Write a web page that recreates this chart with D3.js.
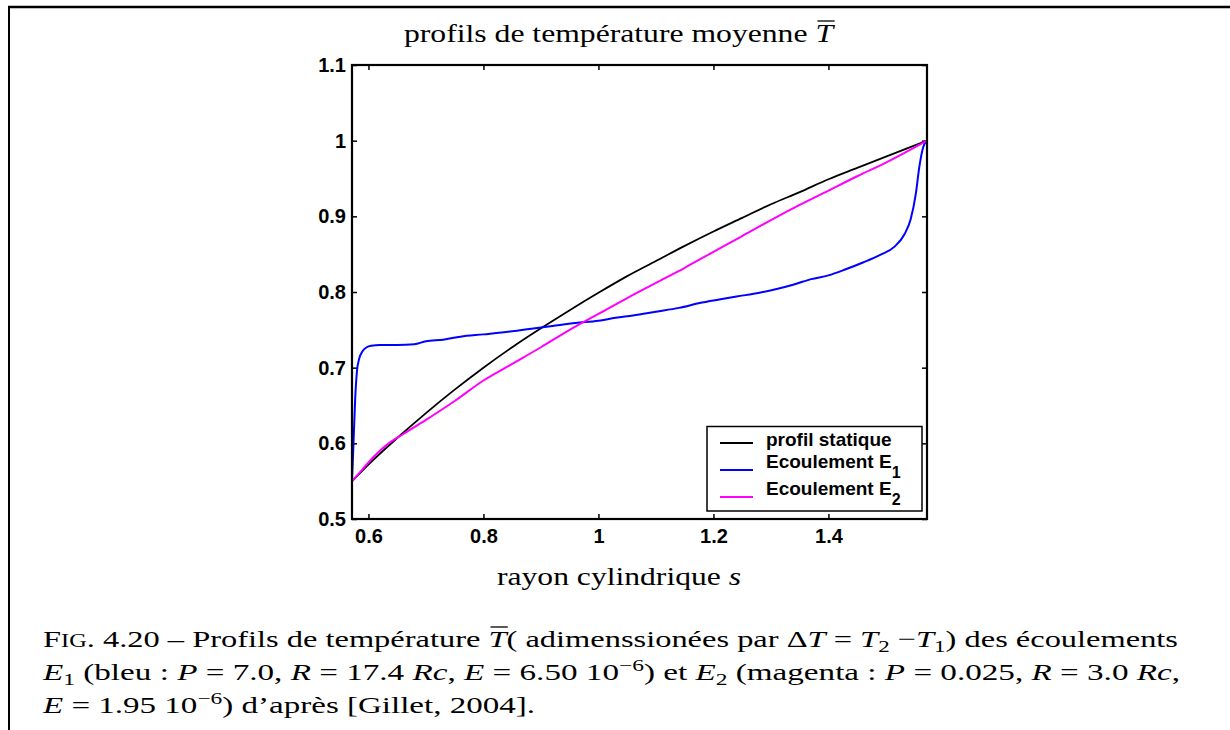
<!DOCTYPE html>
<html>
<head>
<meta charset="utf-8">
<script src="https://cdn.jsdelivr.net/npm/d3@7"></script>
<style>
  body { margin: 0; background: #fff; }
  svg { display: block; }
</style>
</head>
<body>
<svg id="chart" width="1230" height="730"></svg>
<script>
// rayon cylindrique s (ri = 0.5714, ro = 1.5714)
const sStatic = [0.5714, 0.6, 0.65, 0.7, 0.75, 0.8, 0.85, 0.9, 0.95, 1.0, 1.05, 1.1, 1.15, 1.2, 1.25, 1.3, 1.35, 1.4, 1.45, 1.5, 1.5714];
const tStatic = [0.550, 0.572, 0.607, 0.640, 0.671, 0.700, 0.727, 0.752, 0.776, 0.799, 0.821, 0.841, 0.861, 0.880, 0.898, 0.916, 0.932, 0.949, 0.964, 0.979, 1.000];

const sE1 = [0.5714, 0.574, 0.577, 0.580, 0.584, 0.590, 0.597, 0.605, 0.62, 0.65, 0.68, 0.70, 0.73, 0.76, 0.80, 0.85, 0.88, 0.92, 0.96, 1.0, 1.03, 1.06, 1.10, 1.14, 1.18, 1.21, 1.24, 1.28, 1.31, 1.34, 1.37, 1.40, 1.43, 1.46, 1.49, 1.515, 1.532, 1.543, 1.552, 1.558, 1.565, 1.5714];
const tE1 = [0.550, 0.600, 0.660, 0.695, 0.712, 0.722, 0.727, 0.729, 0.730, 0.730, 0.731, 0.735, 0.737, 0.741, 0.744, 0.748, 0.751, 0.755, 0.759, 0.762, 0.766, 0.769, 0.774, 0.779, 0.786, 0.790, 0.794, 0.799, 0.804, 0.810, 0.817, 0.822, 0.830, 0.839, 0.849, 0.860, 0.876, 0.896, 0.930, 0.965, 0.992, 1.000];

const sE2 = [0.5714, 0.59, 0.61, 0.635, 0.66, 0.7, 0.75, 0.8, 0.85, 0.9, 0.95, 1.0, 1.05, 1.1, 1.15, 1.2, 1.25, 1.3, 1.35, 1.4, 1.45, 1.5, 1.5714];
const tE2 = [0.550, 0.566, 0.583, 0.600, 0.612, 0.631, 0.656, 0.683, 0.705, 0.727, 0.750, 0.771, 0.792, 0.812, 0.832, 0.853, 0.874, 0.895, 0.915, 0.934, 0.953, 0.971, 1.000];

const xTicks = [0.6, 0.8, 1, 1.2, 1.4];
const yTicks = [0.5, 0.6, 0.7, 0.8, 0.9, 1, 1.1];
const legendLabels = ["profil statique", "Ecoulement E", "Ecoulement E"];
const legendSubs = ["", "1", "2"];
const seriesColors = ["#000000", "#0000ff", "#ff00ff"];

const svg = d3.select("#chart");
const plot = { left: 352, right: 927, top: 65, bottom: 519 };

// page frame
svg.append("line").attr("x1", 8).attr("x2", 1230).attr("y1", 7).attr("y2", 7)
  .attr("stroke", "#000").attr("stroke-width", 2.5);
svg.append("line").attr("x1", 9).attr("x2", 9).attr("y1", 6).attr("y2", 730)
  .attr("stroke", "#000").attr("stroke-width", 2);

const x = d3.scaleLinear().domain([0.5714, 1.5714]).range([plot.left, plot.right]);
const y = d3.scaleLinear().domain([0.5, 1.1]).range([plot.bottom, plot.top]);

const tickFont = "'Liberation Sans', Arial, Helvetica, sans-serif";

function styleAxis(g) {
  g.select(".domain").remove();
  g.selectAll(".tick line").attr("stroke", "#000").attr("stroke-width", 1.5);
  g.selectAll(".tick text").attr("fill", "#000")
    .attr("font-family", tickFont).attr("font-weight", "bold").attr("font-size", 20);
}

svg.append("g").attr("transform", `translate(0,${plot.bottom})`)
  .call(d3.axisBottom(x).tickValues(xTicks).tickSize(-5).tickPadding(10).tickFormat(d3.format("")))
  .call(styleAxis);
svg.append("g").attr("transform", `translate(0,${plot.top})`)
  .call(d3.axisTop(x).tickValues(xTicks).tickSize(-5).tickFormat(""))
  .call(styleAxis);
svg.append("g").attr("transform", `translate(${plot.left},0)`)
  .call(d3.axisLeft(y).tickValues(yTicks).tickSize(-5).tickPadding(6).tickFormat(d3.format("")))
  .call(styleAxis);
svg.append("g").attr("transform", `translate(${plot.right},0)`)
  .call(d3.axisRight(y).tickValues(yTicks).tickSize(-5).tickFormat(""))
  .call(styleAxis);

// curves
const line = d3.line().x(d => x(d[0])).y(d => y(d[1])).curve(d3.curveMonotoneX);
const series = [
  d3.zip(sStatic, tStatic),
  d3.zip(sE1, tE1),
  d3.zip(sE2, tE2)
];
svg.append("g").selectAll("path").data(series).join("path")
  .attr("d", line)
  .attr("fill", "none")
  .attr("stroke", (d, i) => seriesColors[i])
  .attr("stroke-width", (d, i) => i === 0 ? 1.8 : 2);

// axes box
svg.append("rect")
  .attr("x", plot.left).attr("y", plot.top)
  .attr("width", plot.right - plot.left).attr("height", plot.bottom - plot.top)
  .attr("fill", "none").attr("stroke", "#000").attr("stroke-width", 2.2);

// legend
const legend = svg.append("g");
legend.append("rect")
  .attr("x", 707).attr("y", 426.5).attr("width", 215).attr("height", 84.5)
  .attr("fill", "#fff").attr("stroke", "#000").attr("stroke-width", 1.5);
const lineYs = [443, 470, 497];
const textYs = [446, 468, 495];
legendLabels.forEach((lab, i) => {
  legend.append("line")
    .attr("x1", 720).attr("x2", 753).attr("y1", lineYs[i]).attr("y2", lineYs[i])
    .attr("stroke", seriesColors[i]).attr("stroke-width", 2);
  const t = legend.append("text")
    .attr("x", 766).attr("y", textYs[i])
    .attr("font-family", tickFont).attr("font-weight", "bold").attr("font-size", 19)
    .attr("fill", "#000");
  t.append("tspan").text(lab);
  if (legendSubs[i]) {
    t.append("tspan").attr("dy", 10).attr("font-size", 16).text(legendSubs[i]);
  }
});

// serif texts
const serif = "'Liberation Serif', serif";

function overlineOn(tspanNode, pad) {
  const b = tspanNode.getBBox();
  svg.append("line")
    .attr("x1", b.x + pad).attr("x2", b.x + b.width - 1)
    .attr("y1", b.y + 1).attr("y2", b.y + 1)
    .attr("stroke", "#000").attr("stroke-width", 1.3);
}

const title = svg.append("text")
  .attr("x", 404).attr("y", 42)
  .attr("font-family", serif).attr("font-size", 25).attr("fill", "#000")
  .attr("textLength", 429).attr("lengthAdjust", "spacingAndGlyphs");
title.append("tspan").text("profils de température moyenne ");
const titleT = title.append("tspan").attr("font-style", "italic").text("T");
overlineOn(titleT.node(), 2);

svg.append("text")
  .attr("x", 497).attr("y", 585)
  .attr("font-family", serif).attr("font-size", 25).attr("fill", "#000")
  .attr("textLength", 244).attr("lengthAdjust", "spacingAndGlyphs")
  .call(t => {
    t.append("tspan").text("rayon cylindrique ");
    t.append("tspan").attr("font-style", "italic").text("s");
  });

// caption
function caption(yPos, parts, width) {
  const t = svg.append("text")
    .attr("x", 43).attr("y", yPos)
    .attr("font-family", serif).attr("font-size", 24).attr("fill", "#000");
  if (width) t.attr("textLength", width).attr("lengthAdjust", "spacingAndGlyphs");
  const nodes = [];
  parts.forEach(p => {
    const s = t.append("tspan").text(p.t);
    if (p.i) s.attr("font-style", "italic");
    if (p.fs) s.attr("font-size", p.fs);
    if (p.dy) s.attr("dy", p.dy);
    nodes.push(s);
  });
  return nodes;
}

const cap1 = caption(647, [
  { t: "F" }, { t: "IG", fs: 18 }, { t: ". 4.20 – Profils de température " },
  { t: "T", i: true }, { t: "( adimenssionées par Δ" }, { t: "T", i: true }, { t: " = " },
  { t: "T", i: true }, { t: "2", fs: 17, dy: 5 }, { t: " −", dy: -5 }, { t: "T", i: true },
  { t: "1", fs: 17, dy: 5 }, { t: ") des écoulements", dy: -5 }
], 1135);
overlineOn(cap1[3].node(), 2);

caption(680, [
  { t: "E", i: true }, { t: "1", fs: 17, dy: 5 }, { t: " (bleu : ", dy: -5 }, { t: "P", i: true },
  { t: " = 7.0, " }, { t: "R", i: true }, { t: " = 17.4 " }, { t: "Rc", i: true }, { t: ", " },
  { t: "E", i: true }, { t: " = 6.50 10" }, { t: "−6", fs: 17, dy: -9 }, { t: ") et ", dy: 9 },
  { t: "E", i: true }, { t: "2", fs: 17, dy: 5 }, { t: " (magenta : ", dy: -5 }, { t: "P", i: true },
  { t: " = 0.025, " }, { t: "R", i: true }, { t: " = 3.0 " }, { t: "Rc", i: true }, { t: "," }
], 1137);

caption(713, [
  { t: "E", i: true }, { t: " = 1.95 10" }, { t: "−6", fs: 17, dy: -9 },
  { t: ") d’après [Gillet, 2004].", dy: 9 }
], 492);
</script>
</body>
</html>
